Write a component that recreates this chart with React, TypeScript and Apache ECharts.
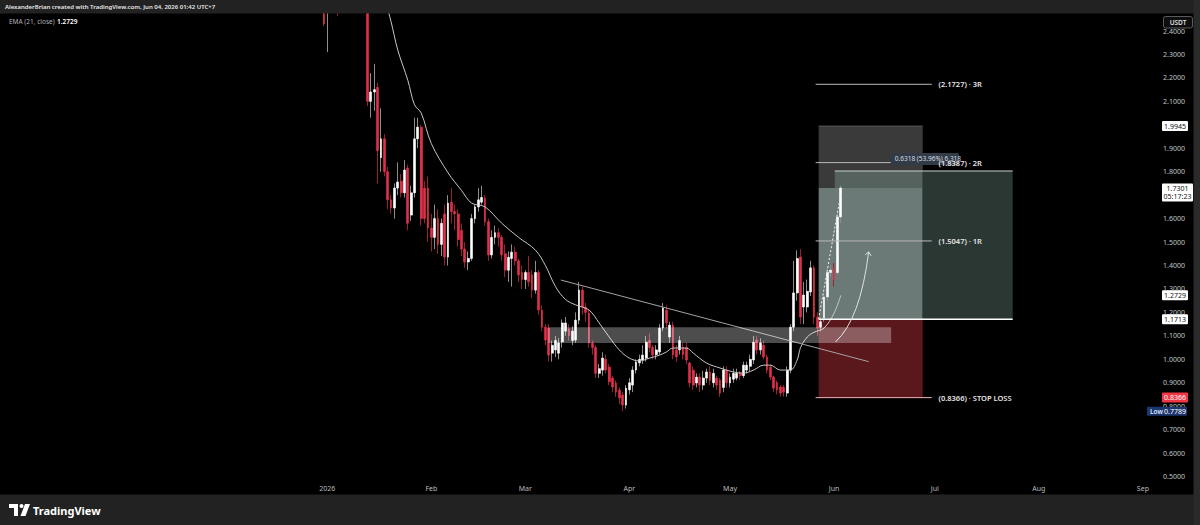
import React, { useEffect, useRef } from "react";
import * as echarts from "echarts";

// ---------- axis ----------
const AXIS_START = "2025-09-26";
const AXIS_DAYS = 345;
const JAN1 = "2026-01-01";
const CANDLE_START = "2025-12-31";
const FIRST_MONTH_LABEL = "2026-01-01";
const monthLabels: Record<string, string> = {
  "01": "2026", "02": "Feb", "03": "Mar", "04": "Apr", "05": "May", "06": "Jun",
  "07": "Jul", "08": "Aug", "09": "Sep", "10": "Oct", "11": "Nov", "12": "Dec",
};
const priceMin = 0.4;
const priceMax = 2.5;
const priceStep = 0.1;
const hiddenPriceLabels = ["1.7000"];

// ---------- daily candles from 2025-12-31 ----------
const opens = [
  2.60, 2.52, 2.56, 2.62, 2.66, 2.56, 2.60, 2.68, 2.72, 2.66, 2.70, 2.64, 2.62,
  2.60, 2.10, 2.14, 2.16, 1.86, 1.94, 1.80, 1.68, 1.645, 1.73, 1.76, 1.71, 1.816,
  1.615, 1.71, 1.94, 1.99, 1.73, 1.73, 1.56, 1.52, 1.60, 1.49, 1.62, 1.436, 1.67,
  1.63, 1.62, 1.55, 1.47, 1.415, 1.43, 1.60, 1.65, 1.67, 1.687, 1.587, 1.445, 1.52,
  1.54, 1.52, 1.45, 1.38, 1.43, 1.457, 1.42, 1.37, 1.34, 1.37, 1.36, 1.295, 1.37,
  1.21, 1.137, 1.133, 1.026, 1.04, 1.026, 1.074, 1.12, 1.13, 1.08, 1.082, 1.167, 1.295,
  1.223, 1.196, 1.069, 1.05, 0.94, 0.954, 1.00, 0.967, 0.92, 0.899, 0.869, 0.848, 0.805,
  0.87, 0.89, 0.954, 0.985, 0.997, 1.005, 1.08, 1.05, 1.02, 1.031, 1.133, 1.21, 1.095,
  1.146, 1.04, 1.04, 1.05, 1.05, 0.984, 0.954, 0.899, 0.924, 0.89, 0.92, 0.946, 0.90,
  0.92, 0.911, 0.88, 0.954, 0.899, 0.915, 0.92, 0.94, 0.93, 0.954, 0.97, 0.997, 1.082,
  1.04, 1.06, 1.01, 0.967, 0.924, 0.90, 0.882, 0.88, 0.856, 0.954, 1.137, 1.283, 1.436,
  1.223, 1.223, 1.287, 1.39, 1.18, 1.137, 1.176, 1.266, 1.37, 1.39, 1.37, 1.607,
];
const closes = [
  2.43, 2.56, 2.62, 2.66, 2.56, 2.60, 2.68, 2.72, 2.66, 2.70, 2.64, 2.62, 2.60,
  2.10, 2.14, 2.15, 1.89, 1.94, 1.80, 1.68, 1.645, 1.73, 1.756, 1.71, 1.807, 1.58,
  1.71, 1.94, 1.99, 1.60, 1.60, 1.56, 1.52, 1.60, 1.49, 1.58, 1.436, 1.666, 1.63,
  1.62, 1.51, 1.47, 1.415, 1.43, 1.60, 1.65, 1.68, 1.69, 1.587, 1.445, 1.52, 1.54,
  1.52, 1.445, 1.38, 1.435, 1.457, 1.42, 1.36, 1.34, 1.37, 1.33, 1.295, 1.37, 1.21,
  1.137, 1.082, 1.018, 1.06, 1.08, 1.07, 1.155, 1.155, 1.10, 1.12, 1.167, 1.295, 1.223,
  1.20, 1.069, 1.05, 0.94, 0.96, 1.005, 0.954, 0.904, 0.882, 0.86, 0.835, 0.805, 0.877,
  0.90, 0.954, 0.988, 1.00, 1.018, 1.073, 1.05, 1.018, 1.04, 1.133, 1.218, 1.155, 1.146,
  1.018, 1.01, 1.08, 1.02, 0.997, 0.899, 0.89, 0.924, 0.89, 0.92, 0.946, 0.91, 0.94,
  0.89, 0.856, 0.954, 0.90, 0.924, 0.94, 0.94, 0.93, 0.975, 0.975, 1.00, 1.073, 1.039,
  1.07, 1.01, 0.954, 0.924, 0.877, 0.87, 0.856, 0.86, 0.954, 1.137, 1.283, 1.43, 1.18,
  1.274, 1.29, 1.39, 1.18, 1.133, 1.16, 1.266, 1.37, 1.38, 1.338, 1.607, 1.7301,
];
const lows = [
  2.42, 2.31, 2.52, 2.55, 2.465, 2.50, 2.55, 2.62, 2.60, 2.60, 2.58, 2.55, 2.52,
  2.08, 2.03, 2.06, 1.75, 1.80, 1.78, 1.64, 1.62, 1.60, 1.70, 1.69, 1.69, 1.55,
  1.59, 1.69, 1.90, 1.57, 1.58, 1.50, 1.46, 1.47, 1.45, 1.44, 1.40, 1.40, 1.58,
  1.55, 1.48, 1.44, 1.39, 1.38, 1.42, 1.58, 1.63, 1.66, 1.57, 1.42, 1.43, 1.49,
  1.48, 1.42, 1.35, 1.33, 1.31, 1.40, 1.33, 1.30, 1.30, 1.31, 1.26, 1.28, 1.19,
  1.12, 1.06, 0.99, 0.99, 1.01, 1.00, 1.05, 1.10, 1.08, 1.06, 1.07, 1.15, 1.19,
  1.16, 1.05, 1.02, 0.92, 0.92, 0.93, 0.94, 0.89, 0.86, 0.84, 0.81, 0.7789, 0.79,
  0.85, 0.86, 0.94, 0.97, 0.98, 0.99, 1.03, 1.00, 1.00, 1.02, 1.12, 1.13, 1.07,
  1.00, 0.99, 1.02, 1.00, 0.98, 0.88, 0.87, 0.88, 0.86, 0.87, 0.90, 0.89, 0.88,
  0.87, 0.84, 0.86, 0.88, 0.88, 0.90, 0.91, 0.91, 0.92, 0.94, 0.95, 0.98, 1.02,
  1.02, 1.00, 0.94, 0.91, 0.86, 0.85, 0.84, 0.84, 0.84, 0.94, 1.12, 1.25, 1.15,
  1.15, 1.20, 1.27, 1.15, 1.10, 1.12, 1.16, 1.25, 1.35, 1.31, 1.36, 1.58,
];
const highs = [
  2.70, 2.65, 2.68, 2.72, 2.70, 2.66, 2.74, 2.80, 2.78, 2.76, 2.74, 2.70, 2.68,
  2.65, 2.22, 2.26, 2.18, 2.07, 1.96, 1.82, 1.70, 1.75, 1.84, 1.79, 1.85, 1.83,
  1.74, 2.03, 2.03, 2.00, 1.76, 1.78, 1.62, 1.66, 1.64, 1.60, 1.66, 1.70, 1.73,
  1.66, 1.64, 1.58, 1.50, 1.46, 1.62, 1.66, 1.73, 1.74, 1.70, 1.60, 1.55, 1.57,
  1.56, 1.53, 1.49, 1.46, 1.49, 1.48, 1.43, 1.40, 1.38, 1.44, 1.38, 1.42, 1.38,
  1.23, 1.15, 1.15, 1.08, 1.10, 1.09, 1.17, 1.18, 1.15, 1.14, 1.20, 1.33, 1.31,
  1.24, 1.21, 1.08, 1.06, 0.98, 1.03, 1.02, 0.98, 0.93, 0.91, 0.88, 0.86, 0.89,
  0.92, 0.97, 1.00, 1.02, 1.06, 1.10, 1.11, 1.06, 1.06, 1.15, 1.24, 1.23, 1.16,
  1.16, 1.06, 1.10, 1.07, 1.07, 0.99, 0.97, 0.94, 0.94, 0.95, 0.96, 0.97, 0.96,
  0.93, 0.92, 0.97, 0.97, 0.94, 0.96, 0.96, 0.95, 0.99, 0.99, 1.02, 1.10, 1.10,
  1.09, 1.08, 1.02, 0.98, 0.93, 0.91, 0.89, 0.89, 0.97, 1.15, 1.42, 1.465, 1.47,
  1.33, 1.34, 1.42, 1.40, 1.20, 1.18, 1.28, 1.39, 1.40, 1.41, 1.62, 1.74,
];

// ---------- EMA(21): [days after Jan 1, value] ----------
const emaPoints: [number, number][] = [
  [16, 2.60], [19, 2.44], [21, 2.319], [24, 2.19], [26, 2.085], [28, 2.05], [31, 1.92],
  [36, 1.795], [40, 1.72], [43, 1.666], [47, 1.65], [52, 1.58], [57, 1.52], [62, 1.466],
  [65, 1.40], [68, 1.31], [71, 1.255], [74, 1.232], [78, 1.21], [81, 1.155], [84, 1.095],
  [87, 1.04], [90, 1.005], [93, 0.993], [96, 1.005], [99, 1.018], [101, 1.031], [103, 1.048],
  [107, 1.048], [109, 1.027], [113, 0.984], [117, 0.963], [121, 0.946], [124, 0.941],
  [127, 0.954], [130, 0.975], [132, 0.975], [135, 0.954], [138, 0.954], [140, 0.997],
  [141, 1.05], [143, 1.095], [145, 1.115], [148, 1.133], [151, 1.197], [153, 1.2729],
];

// ---------- drawings (days after Jan 1, prices) ----------
const zoneBand = { d0: 65.8, d1: 168, p0: 1.069, p1: 1.137 };
const trendLine = { d0: 69.6, p0: 1.338, d1: 161.3, p1: 0.99 };
const entryPrice = 1.1713;
const stopPrice = 0.8366;
const targetPrice = 1.803;
const boxTopPrice = 1.9945;
const lastPrice = 1.7301;
const emaLast = 1.2729;
const lowPrice = 0.7789;
const posLeft = 146.4, posInner = 151.2, posMid = 177.4, posRight = 204.2;
const levelLines = [
  { price: 2.1727, label: "(2.1727) · 3R", color: "#b9b9b9" },
  { price: 1.8387, label: "(1.8387) · 2R", color: "#b9b9b9" },
  { price: 1.5047, label: "(1.5047) · 1R", color: "#b9b9b9" },
  { price: 0.8366, label: "(0.8366) · STOP LOSS", color: "#eeb3b7" },
];
const levelFrom = 145.5, levelTo = 180.1, levelLabelAt = 182.1;
const measureText = "0.6318 (53.96%) 6,318";
const measureAt = { d: 167.9, p: 1.88 };
const curveArrow = { d0: 151.4, p0: 1.074, dc: 158.8, pc: 1.17, d1: 161.3, p1: 1.458 };
const dashedPath = { d0: 146.4, p0: 1.1713, d1: 153.3, p1: 1.7301 };

const FONT = "'Noto Sans', 'DejaVu Sans', sans-serif";

function addDays(iso: string, n: number) {
  const t = Date.parse(iso + "T00:00:00Z") + n * 86400000;
  return new Date(t).toISOString().slice(0, 10);
}
const categories = Array.from({ length: AXIS_DAYS }, (_, i) => addDays(AXIS_START, i));
const jan1Index = categories.indexOf(JAN1);
const candleOffset = categories.indexOf(CANDLE_START);

export default function App() {
  const ref = useRef<HTMLDivElement>(null);
  useEffect(() => {
    if (!ref.current) return;
    const chart = echarts.init(ref.current, undefined, { renderer: "svg" });
    const empty = ["-", "-", "-", "-"];
    const wickData = categories.map((_, i) => {
      const j = i - candleOffset;
      if (j < 0 || j >= opens.length) return empty;
      return [opens[j], closes[j], lows[j], highs[j]];
    });
    const bodyData = categories.map((_, i) => {
      const j = i - candleOffset;
      if (j < 0 || j >= opens.length) return empty;
      return [opens[j], closes[j], Math.min(opens[j], closes[j]), Math.max(opens[j], closes[j])];
    });
    const emaData = emaPoints.map(([d, v]) => [categories[jan1Index + d], v]);

    chart.setOption({
      animation: false,
      backgroundColor: "#000000",
      grid: { left: 0, right: 42, top: 7.55, bottom: 25, containLabel: false },
      xAxis: {
        type: "category",
        data: categories,
        boundaryGap: true,
        axisLine: { show: false },
        axisTick: { show: false },
        splitLine: { show: false },
        axisLabel: {
          inside: true,
          margin: 8,
          color: "#bdbdbd",
          fontSize: 7,
          fontFamily: FONT,
          interval: (_i: number, v: string) => v.slice(8) === "01" && v >= FIRST_MONTH_LABEL,
          formatter: (v: string) => monthLabels[v.slice(5, 7)],
        },
      },
      yAxis: {
        type: "value",
        position: "right",
        min: priceMin,
        max: priceMax,
        interval: priceStep,
        scale: true,
        axisLine: { show: false },
        axisTick: { show: false },
        splitLine: { show: false },
        axisLabel: {
          color: "#c4c4c4",
          fontSize: 7,
          fontFamily: FONT,
          margin: 5,
          formatter: (v: number) => {
            const s = v.toFixed(4);
            return hiddenPriceLabels.includes(s) ? "" : s;
          },
        },
      },
      series: [
        {
          type: "candlestick",
          name: "wick",
          data: wickData,
          barWidth: 1,
          clip: true,
          z: 2,
          itemStyle: {
            color: "#8d8d8d",
            color0: "#9b2035",
            borderColor: "#8d8d8d",
            borderColor0: "#9b2035",
            borderWidth: 1,
          },
        },
        {
          type: "candlestick",
          name: "body",
          data: bodyData,
          barWidth: 2.3,
          clip: true,
          z: 3,
          itemStyle: {
            color: "#ffffff",
            color0: "#e3304a",
            borderColor: "#ffffff",
            borderColor0: "#e3304a",
            borderWidth: 0.6,
          },
        },
        {
          type: "line",
          name: "EMA",
          data: emaData,
          smooth: 0.35,
          symbol: "none",
          clip: true,
          z: 4,
          lineStyle: { color: "#c6c6c6", width: 1 },
        },
      ],
    });

    const px = (d: number) => {
      const f = Math.floor(d);
      const a = chart.convertToPixel({ xAxisIndex: 0 }, jan1Index + f) as number;
      const b = chart.convertToPixel({ xAxisIndex: 0 }, jan1Index + f + 1) as number;
      return a + (b - a) * (d - f);
    };
    const py = (p: number) => chart.convertToPixel({ yAxisIndex: 0 }, p) as number;
    const rect = (d0: number, d1: number, p0: number, p1: number, fill: string, z: number) => {
      const x0 = px(d0), x1 = px(d1), y0 = py(p0), y1 = py(p1);
      return {
        type: "rect", silent: true, z,
        shape: { x: Math.min(x0, x1), y: Math.min(y0, y1), width: Math.abs(x1 - x0), height: Math.abs(y1 - y0) },
        style: { fill },
      };
    };
    const seg = (d0: number, p0: number, d1: number, p1: number, stroke: string, lineWidth: number, z: number, lineDash?: number[]) => ({
      type: "line", silent: true, z,
      shape: { x1: px(d0), y1: py(p0), x2: px(d1), y2: py(p1) },
      style: { stroke, lineWidth, lineDash },
    });
    const txt = (x: number, y: number, text: string, fill: string, font: string, align = "left", z = 60) => ({
      type: "text", silent: true, z,
      style: { x, y, text, fill, font, align, verticalAlign: "middle" },
    });

    const els: any[] = [];
    // position tool boxes
    els.push(rect(posLeft, posMid, boxTopPrice, lastPrice, "#3a3a3a", 1));
    els.push(rect(posInner, posMid, targetPrice, lastPrice, "#56625e", 1));
    els.push(rect(posLeft, posMid, lastPrice, entryPrice, "#6b7a76", 1));
    els.push(rect(posMid, posRight, targetPrice, entryPrice, "#2a3733", 1));
    els.push(rect(posLeft, posMid, entryPrice, stopPrice, "#5a171c", 1));
    els.push(seg(posInner, targetPrice, posRight, targetPrice, "#c9d1ce", 1, 1));
    els.push(seg(posLeft, boxTopPrice, posMid, boxTopPrice, "#555555", 1, 1));
    els.push(seg(posLeft, entryPrice, posRight, entryPrice, "#ffffff", 1.5, 5));
    // level lines + labels
    for (const l of levelLines) {
      els.push(seg(levelFrom, l.price, levelTo, l.price, l.color, 1, 5));
    }
    // measure box
    {
      const x = px(measureAt.d), y = py(measureAt.p);
      els.push({ type: "rect", silent: true, z: 6, shape: { x, y, width: 68, height: 12 }, style: { fill: "#303b47" } });
      els.push(txt(x + 4, y + 6, measureText, "#d8dde3", `6.5px ${FONT}`, "left", 7));
    }
    for (const l of levelLines) {
      els.push(txt(px(levelLabelAt), py(l.price), l.label, "#e6e6e6", `600 7.5px ${FONT}`, "left", 8));
    }
    // zone band and trend line
    els.push(rect(zoneBand.d0, zoneBand.d1, zoneBand.p0, zoneBand.p1, "rgba(255,255,255,0.30)", 10));
    els.push(seg(trendLine.d0, trendLine.p0, trendLine.d1, trendLine.p1, "#a3a3a3", 1, 9));
    els.push(seg(dashedPath.d0, dashedPath.p0, dashedPath.d1, dashedPath.p1, "#f2f2f2", 1, 9, [2, 2]));
    // curved arrow
    {
      const x1 = px(curveArrow.d0), y1 = py(curveArrow.p0);
      const x2 = px(curveArrow.d1), y2 = py(curveArrow.p1);
      els.push({
        type: "bezierCurve", silent: true, z: 9,
        shape: { x1, y1, x2, y2, cpx1: px(curveArrow.dc), cpy1: py(curveArrow.pc) },
        style: { stroke: "#e0e0e0", lineWidth: 1, fill: "none" },
      });
      els.push({
        type: "polyline", silent: true, z: 9,
        shape: { points: [[x2 - 3.5, y2 + 3], [x2, y2], [x2 + 2.5, y2 + 4]] },
        style: { stroke: "#e0e0e0", lineWidth: 1, fill: "none" },
      });
    }
    // price tags on the right scale
    const tag = (p: number, text: string, bg: string, fg: string) => {
      const y = py(p);
      els.push({ type: "rect", silent: true, z: 50, shape: { x: 1162, y: y - 5, width: 26, height: 10, r: 1 }, style: { fill: bg } });
      els.push(txt(1175, y, text, fg, `7px ${FONT}`, "center", 51));
    };
    tag(boxTopPrice, "1.9945", "#ffffff", "#111111");
    {
      const y = py(lastPrice);
      els.push({ type: "rect", silent: true, z: 50, shape: { x: 1162, y: y - 4.5, width: 31, height: 18, r: 1 }, style: { fill: "#ffffff" } });
      els.push(txt(1177.5, y + 0.5, "1.7301", "#111111", `7px ${FONT}`, "center", 51));
      els.push(txt(1177.5, y + 8.5, "05:17:23", "#111111", `7px ${FONT}`, "center", 51));
    }
    tag(emaLast, "1.2729", "#ffffff", "#111111");
    tag(entryPrice, "1.1713", "#ffffff", "#111111");
    tag(stopPrice, "0.8366", "#f23645", "#ffffff");
    {
      const y = py(lowPrice);
      els.push({ type: "rect", silent: true, z: 50, shape: { x: 1147, y: y - 4.5, width: 40, height: 9, r: 1 }, style: { fill: "#1d3670" } });
      els.push(txt(1150, y, "Low", "#dfe6f5", `600 6.5px ${FONT}`, "left", 51));
      els.push(txt(1175, y, "0.7789", "#ffffff", `7px ${FONT}`, "center", 51));
    }
    // USDT box
    els.push({ type: "rect", silent: true, z: 50, shape: { x: 1163.5, y: 16.5, width: 29, height: 11.5, r: 2 }, style: { fill: "#0e0e0e", stroke: "#5a5a5a", lineWidth: 1 } });
    els.push(txt(1178, 22.5, "USDT", "#e0e0e0", `600 6.5px ${FONT}`, "center", 51));
    // frame: header, footer, right strip
    els.push({ type: "rect", silent: true, z: 100, shape: { x: 0, y: 0, width: 1200, height: 13.5 }, style: { fill: "#222222" } });
    els.push({ type: "rect", silent: true, z: 100, shape: { x: 0, y: 494.5, width: 1200, height: 30.5 }, style: { fill: "#222222" } });
    els.push({ type: "rect", silent: true, z: 100, shape: { x: 1193.5, y: 0, width: 6.5, height: 525 }, style: { fill: "#2a2a2a" } });
    els.push(txt(5, 7, "AlexanderBrian created with TradingView.com, Jun 04, 2026 01:42 UTC+7", "#e8e8e8", `600 6px ${FONT}`, "left", 101));
    els.push(txt(9, 21.5, "EMA (21, close)", "#b0b0b0", `6.5px ${FONT}`, "left", 101));
    els.push(txt(57, 21.5, "1.2729", "#ffffff", `600 6.5px ${FONT}`, "left", 101));
    // TradingView logo
    els.push({ type: "polygon", silent: true, z: 101, shape: { points: [[9, 504], [18, 504], [18, 516], [14, 516], [14, 508], [9, 508]] }, style: { fill: "#ffffff" } });
    els.push({ type: "circle", silent: true, z: 101, shape: { cx: 21.5, cy: 506, r: 2 }, style: { fill: "#ffffff" } });
    els.push({ type: "polygon", silent: true, z: 101, shape: { points: [[25, 504], [30, 504], [25.5, 516], [20.5, 516]] }, style: { fill: "#ffffff" } });
    els.push(txt(33, 510, "TradingView", "#ffffff", `700 11px ${FONT}`, "left", 101));

    chart.setOption({ graphic: { elements: els } });
    return () => chart.dispose();
  }, []);
  return (
    <div style={{ position: "fixed", left: 0, top: 0, width: 1200, height: 525, background: "#000" }}>
      <div ref={ref} style={{ width: 1200, height: 525 }} />
    </div>
  );
}
